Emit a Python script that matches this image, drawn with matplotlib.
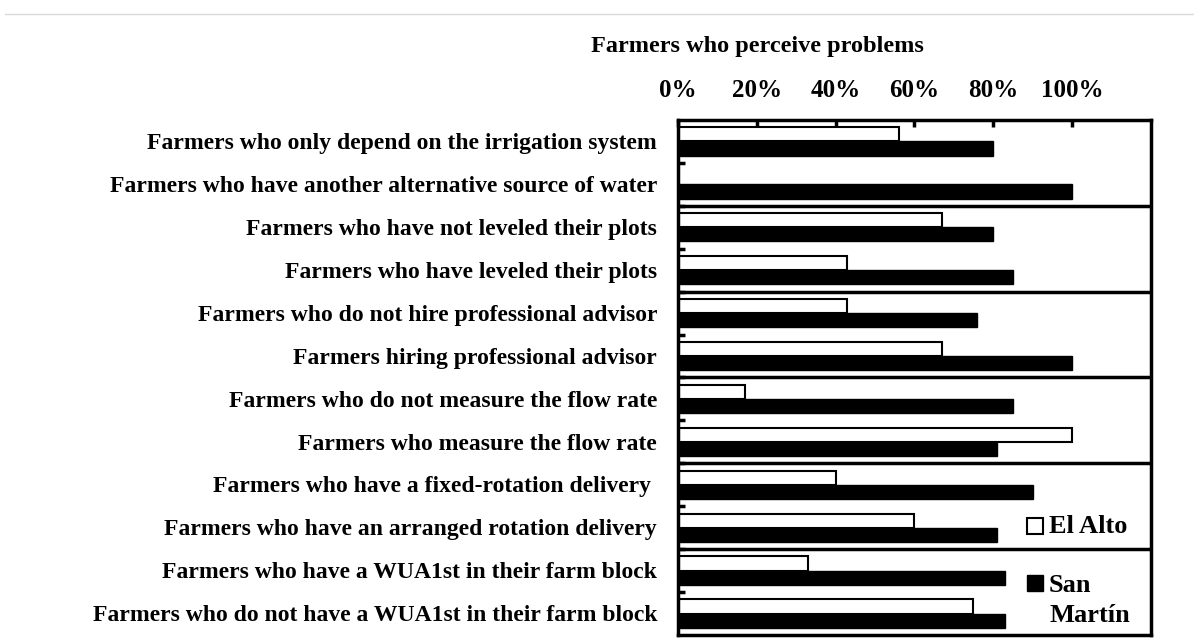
import matplotlib.pyplot as plt
from matplotlib.lines import Line2D

# === DATA ===
categories = [
    "Farmers who only depend on the irrigation system",
    "Farmers who have another alternative source of water",
    "Farmers who have not leveled their plots",
    "Farmers who have leveled their plots",
    "Farmers who do not hire professional advisor",
    "Farmers hiring professional advisor",
    "Farmers who do not measure the flow rate",
    "Farmers who measure the flow rate",
    "Farmers who have a fixed-rotation delivery ",
    "Farmers who have an arranged rotation delivery",
    "Farmers who have a WUA1st in their farm block",
    "Farmers who do not have a WUA1st in their farm block",
]
el_alto = [56, 0, 67, 43, 43, 67, 17, 100, 40, 60, 33, 75]
san_martin = [80, 100, 80, 85, 76, 100, 85, 81, 90, 81, 83, 83]
tick_vals = [0, 20, 40, 60, 80, 100]
tick_labels = ["0%", "20%", "40%", "60%", "80%", "100%"]

plt.rcParams['font.family'] = ['Liberation Serif', 'DejaVu Serif']
plt.rcParams['font.weight'] = 'bold'

fig = plt.figure(figsize=(11.94, 6.41), dpi=100)
ax = fig.add_axes([0.5678, 0.0094, 0.396, 0.8034])

y = list(range(len(categories)))
h = 0.33
ax.barh([v - h / 2 for v in y], el_alto, height=h, color="white",
        edgecolor="black", linewidth=1.5)
ax.barh([v + h / 2 for v in y], san_martin, height=h, color="black",
        edgecolor="black", linewidth=1.0)

ax.set_xlim(0, 120)
ax.set_ylim(len(categories) - 0.5, -0.5)

# group separators
for b in [1.5, 3.5, 5.5, 7.5, 9.5]:
    ax.axhline(b, color="black", lw=2.5)

for s in ax.spines.values():
    s.set_linewidth(2.5)

ax.xaxis.tick_top()
ax.set_xticks(tick_vals)
ax.set_xticklabels(tick_labels, fontsize=18, fontweight="bold")
ax.tick_params(axis="x", direction="in", length=5, width=2.5, pad=13)

ax.set_yticks([v + 0.5 for v in y[:-1]])
ax.set_yticklabels([])
ax.tick_params(axis="y", direction="in", length=5, width=2.5, left=True)

for yi, name in zip(y, categories):
    ax.text(-0.044, yi + 0.05, name, transform=ax.get_yaxis_transform(),
            ha="right", va="center", fontsize=17, fontweight="bold")

fig.text(0.634, 0.928, "Farmers who perceive problems", ha="center", va="center",
         fontsize=17.5, fontweight="bold")

# legend drawn by hand
ax.add_line(Line2D([0.756], [0.211], transform=ax.transAxes, marker="s", ms=11,
                   mfc="white", mec="black", mew=1.5, ls="none"))
ax.text(0.785, 0.211, "El Alto", transform=ax.transAxes, ha="left", va="center",
        fontsize=19, fontweight="bold")
ax.add_line(Line2D([0.756], [0.101], transform=ax.transAxes, marker="s", ms=11,
                   mfc="black", mec="black", ls="none"))
ax.text(0.785, 0.097, "San", transform=ax.transAxes, ha="left", va="center",
        fontsize=19, fontweight="bold")
ax.text(0.785, 0.038, "Martín", transform=ax.transAxes, ha="left", va="center",
        fontsize=19, fontweight="bold")

# thin grey rule along the top
fig.add_artist(Line2D([0.004, 1.0], [0.978, 0.978], transform=fig.transFigure,
                      color="#d9d9d9", lw=1))

fig.savefig("out.png", dpi=100)
